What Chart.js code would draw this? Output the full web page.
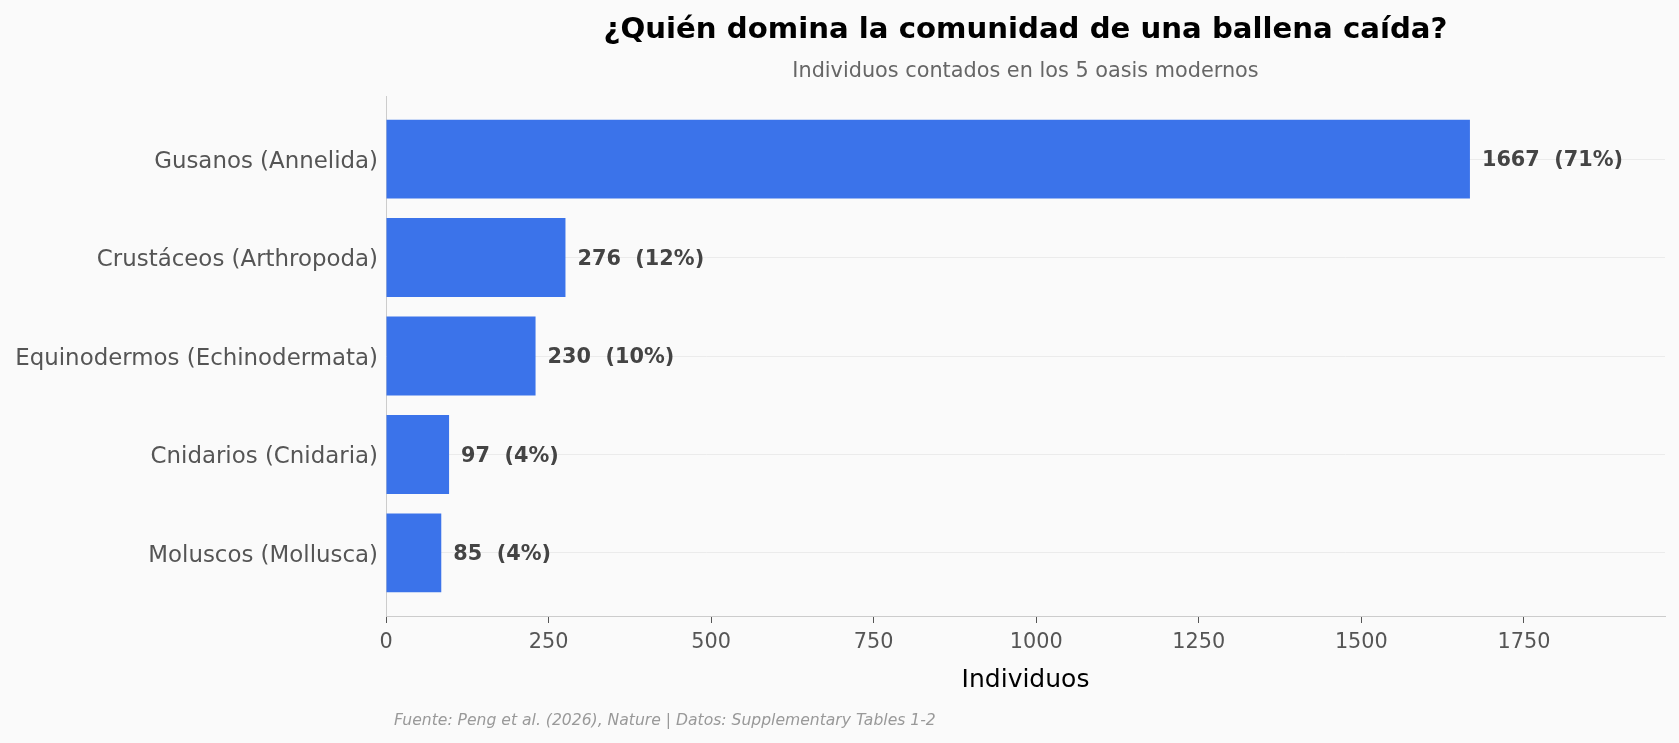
<!DOCTYPE html>
<html lang="es">
<head>
    <meta charset="UTF-8">
    <title>Ballena caída</title>
    <script src="https://cdn.jsdelivr.net/npm/chart.js@4.4.1/dist/chart.umd.min.js"></script>
    <style>
        html, body { margin: 0; padding: 0; background: #fafafa; }
        #wrap { width: 1679px; height: 743px; }
    </style>
</head>
<body>
    <div id="wrap"><canvas id="chart"></canvas></div>
    <script>
        // datos
        const categories = ['Gusanos (Annelida)', 'Crustáceos (Arthropoda)', 'Equinodermos (Echinodermata)', 'Cnidarios (Cnidaria)', 'Moluscos (Mollusca)'];
        const counts = [1667, 276, 230, 97, 85];
        const xTicks = [0, 250, 500, 750, 1000, 1250, 1500, 1750];

        const total = counts.reduce((a, b) => a + b, 0);
        const FONT = "'DejaVu Sans', sans-serif";

        // fondo
        const bgPlugin = {
            id: 'bg',
            beforeDraw(chart) {
                const c = chart.ctx;
                c.save();
                c.fillStyle = '#fafafa';
                c.fillRect(0, 0, chart.width, chart.height);
                c.restore();
            }
        };

        // etiquetas de valor y nota de fuente
        const labelsPlugin = {
            id: 'valueLabels',
            afterDatasetsDraw(chart) {
                const c = chart.ctx;
                const bars = chart.getDatasetMeta(0).data;
                c.save();
                c.font = 'bold 20.8px ' + FONT;
                c.fillStyle = '#444';
                c.textAlign = 'left';
                c.textBaseline = 'middle';
                bars.forEach((bar, i) => {
                    const pct = Math.round(counts[i] / total * 100);
                    c.fillText(counts[i] + '  (' + pct + '%)', bar.x + 12, bar.y + 2);
                });
                c.restore();
            },
            afterDraw(chart) {
                const c = chart.ctx;
                c.save();
                c.font = 'italic 15.6px ' + FONT;
                c.fillStyle = '#999';
                c.textAlign = 'left';
                c.textBaseline = 'alphabetic';
                c.fillText('Fuente: Peng et al. (2026), Nature | Datos: Supplementary Tables 1-2', chart.chartArea.left + 8, 725);
                c.restore();
            }
        };

        new Chart(document.getElementById('chart'), {
            type: 'bar',
            data: {
                datasets: [{
                    data: counts.map((v, i) => ({ x: v, y: i })),
                    backgroundColor: '#3b73ea',
                    borderWidth: 0,
                    barPercentage: 0.8,
                    categoryPercentage: 1.0
                }]
            },
            options: {
                indexAxis: 'y',
                responsive: true,
                maintainAspectRatio: false,
                animation: false,
                layout: { padding: { left: 0, right: 14, top: 0, bottom: 40 } },
                plugins: {
                    legend: { display: false },
                    tooltip: { enabled: false },
                    title: {
                        display: true,
                        fullSize: false,
                        text: '¿Quién domina la comunidad de una ballena caída?',
                        color: '#000',
                        font: { family: FONT, size: 29.2, weight: 'bold' },
                        padding: { top: 13, bottom: 11 }
                    },
                    subtitle: {
                        display: true,
                        fullSize: false,
                        text: 'Individuos contados en los 5 oasis modernos',
                        color: '#666',
                        font: { family: FONT, size: 20.8 },
                        padding: { top: 0, bottom: 12 }
                    }
                },
                scales: {
                    x: {
                        type: 'linear',
                        min: 0,
                        max: 1967,
                        afterBuildTicks: s => { s.ticks = xTicks.map(v => ({ value: v })); },
                        afterFit: s => { s.height = 87; },
                        grid: { display: true, drawOnChartArea: false, drawTicks: true, tickLength: 7, tickColor: '#555', tickWidth: 1 },
                        border: { display: true, color: '#ccc', width: 1 },
                        ticks: { color: '#555', padding: 7, font: { family: FONT, size: 20.8 }, callback: v => String(v) },
                        title: {
                            display: true,
                            text: 'Individuos',
                            color: '#000',
                            font: { family: FONT, size: 25 },
                            padding: { top: 4, bottom: 8 }
                        }
                    },
                    y: {
                        type: 'linear',
                        min: -0.64,
                        max: 4.64,
                        reverse: true,
                        offset: false,
                        afterBuildTicks: s => { s.ticks = categories.map((_, i) => ({ value: i })); },
                        afterFit: s => { s.width = 386; },
                        grid: { display: true, offset: false, color: '#ebebeb', lineWidth: 1, drawTicks: false },
                        border: { display: true, color: '#ccc', width: 1 },
                        ticks: {
                            color: '#555',
                            padding: 8,
                            labelOffset: 3,
                            font: { family: FONT, size: 22.9 },
                            callback: v => categories[v]
                        }
                    }
                }
            },
            plugins: [bgPlugin, labelsPlugin]
        });
    </script>
</body>
</html>
